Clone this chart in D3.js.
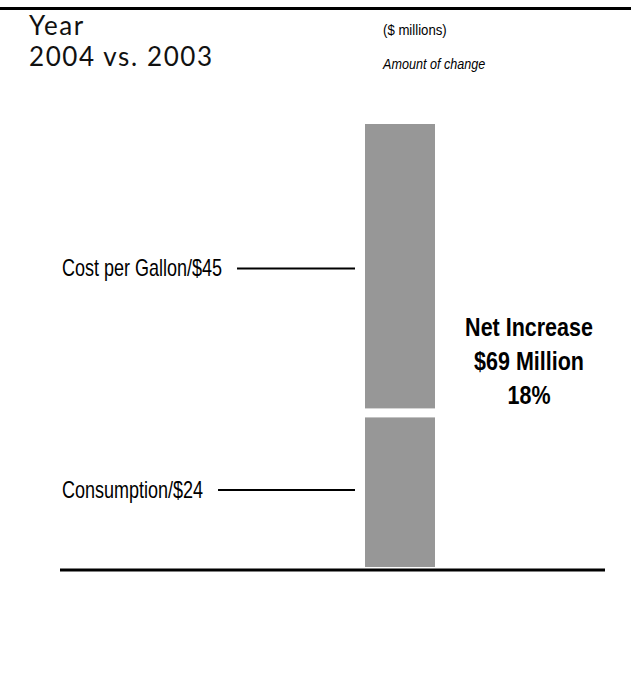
<!DOCTYPE html>
<html>
<head>
<meta charset="utf-8">
<script src="https://cdn.jsdelivr.net/npm/d3@7"></script>
<style>
  body { margin: 0; background: #fff; }
  .narrow { font-family: "Liberation Sans", Arial, sans-serif; }
</style>
</head>
<body>
<div id="chart"></div>
<script>
// Data (stacked from the bottom up)
const segments = ["Consumption", "Cost per Gallon"];
const values = [24, 45];
const netPct = 18;
const titleLines = ["Year", "2004 vs. 2003"];
const unitLabel = "($ millions)";
const measureLabel = "Amount of change";

const W = 631, H = 677;

// Scales
const x = d3.scaleBand().domain(["change"]).range([365, 435]);
const total = d3.sum(values);
const y = d3.scaleLinear().domain([0, total]).range([567, 124]);

// Stack the segments
let acc = 0;
const stacked = segments.map((name, i) => {
  const d = { name: name, value: values[i], y0: acc, y1: acc + values[i] };
  acc += values[i];
  return d;
});

const svg = d3.select("#chart")
  .append("svg")
    .attr("width", W)
    .attr("height", H);

// no condensed font installed: squeeze a regular one horizontally
function narrowText(parent, str, px, py, size, k) {
  return parent.append("text")
    .attr("class", "narrow")
    .attr("transform", `translate(${px},${py}) scale(${k},1)`)
    .style("font-size", size + "px")
    .attr("fill", "#000")
    .text(str);
}

// Top rule
svg.append("line")
    .attr("x1", 0).attr("x2", W)
    .attr("y1", 8.5).attr("y2", 8.5)
    .attr("stroke", "#000")
    .attr("stroke-width", 3);

// Title
svg.append("g")
    .selectAll("text")
    .data(titleLines)
    .join("text")
    .attr("x", 29)
    .attr("y", (d, i) => 35 + i * 30.5)
    .style("font-family", "Lato, 'Noto Sans', sans-serif")
    .style("font-size", "26px")
    .style("letter-spacing", "1.6px")
    .attr("fill", "#111")
    .text(d => d);

// Units
narrowText(svg, unitLabel, 383, 35, 15, 0.88);
narrowText(svg, measureLabel, 383, 69, 15, 0.84)
    .style("font-style", "italic");

// Bar segments with a small white gap between them
const gap = 4.5;
svg.append("g")
    .selectAll("rect")
    .data(stacked)
    .join("rect")
    .attr("x", x("change"))
    .attr("width", x.bandwidth())
    .attr("y", (d, i) => y(d.y1) + (i < stacked.length - 1 ? gap : 0))
    .attr("height", (d, i) => y(d.y0) - y(d.y1)
        - (i > 0 ? gap : 0) - (i < stacked.length - 1 ? gap : 0))
    .attr("fill", "#979797");

// Segment labels with leader lines
const labelK = 0.75;
stacked.forEach(d => {
  const my = y((d.y0 + d.y1) / 2);
  const t = narrowText(svg, `${d.name}/$${d.value}`, 62, my + 8, 24, labelK);
  const w = t.node().getComputedTextLength() * labelK;
  svg.append("line")
    .attr("x1", 62 + w + 15)
    .attr("x2", x("change") - 10)
    .attr("y1", my).attr("y2", my)
    .attr("stroke", "#000")
    .attr("stroke-width", 2);
});

// Net increase
const netLines = ["Net Increase", `$${total} Million`, `${netPct}%`];
netLines.forEach((s, i) => {
  narrowText(svg, s, 529, 336 + i * 34, 25, 0.86)
    .attr("text-anchor", "middle")
    .style("font-weight", "bold");
});

// Baseline
svg.append("line")
    .attr("x1", 60).attr("x2", 605)
    .attr("y1", 570).attr("y2", 570)
    .attr("stroke", "#000")
    .attr("stroke-width", 3);
</script>
</body>
</html>
